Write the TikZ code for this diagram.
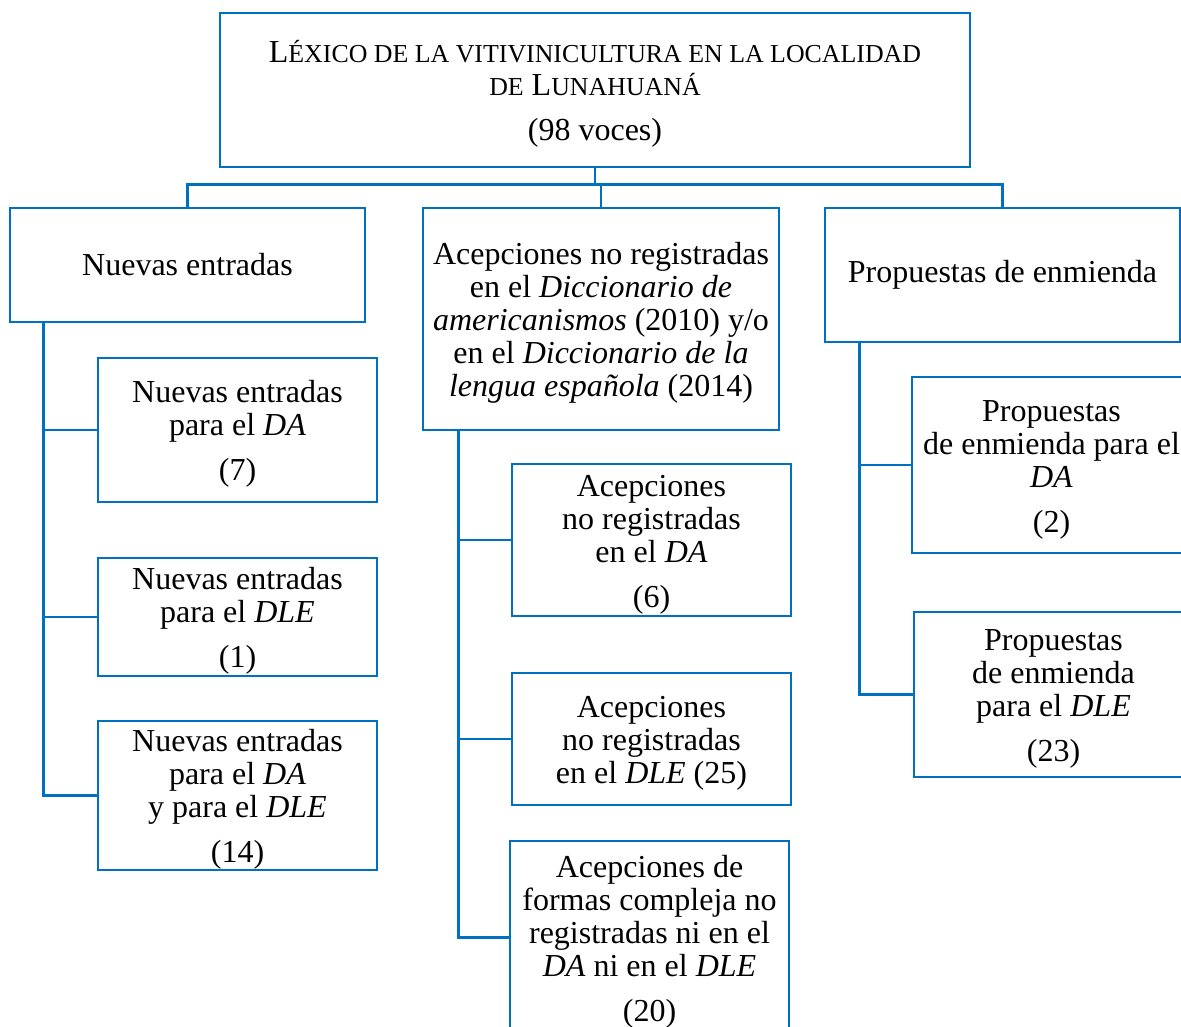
\documentclass[tikz,border=0pt]{standalone}
\usepackage{fontspec}
\setmainfont{Liberation Serif}
\usepackage{xcolor}
\usetikzlibrary{positioning,calc}
\definecolor{lineblue}{HTML}{0070C0}
\newdimen\px \px=0.75pt
\newcommand{\fsc}[1]{{\fontsize{19.4}{24.75}\selectfont #1}}
\newcommand{\tp}{\rule{0pt}{23pt}}
\tikzset{box/.style={draw=lineblue,line width=2.1pt,align=center,inner sep=0pt,
    font=\fontsize{24}{24.75}\selectfont},
  link/.style={draw=lineblue,line width=2.1pt}}

\begin{document}
\begin{tikzpicture}[x=0.75pt,y=-0.75pt]
\useasboundingbox (0,0) rectangle (1181,1027);
\clip (0,0) rectangle (1181,1027);
% top
\node[box,minimum width=750\px,minimum height=154\px] (top) at (595,90)
  {\tp L\fsc{ÉXICO DE LA VITIVINICULTURA EN LA LOCALIDAD}\\ \fsc{DE} L\fsc{UNAHUANÁ}\\[9pt] (98 voces)};
% first level
\node[box,minimum width=355\px,minimum height=114\px] (ne) at (187.5,265) {Nuevas entradas};
\node[box,minimum width=356\px,minimum height=222\px] (ac) at (601,319)
  {\tp Acepciones no registradas\\ en el \textit{Diccionario de}\\ \textit{americanismos} (2010) y/o\\
   en el \textit{Diccionario de la}\\ \textit{lengua española} (2014)};
\node[box,minimum width=355\px,minimum height=134\px] (pe) at (1002.5,275) {Propuestas de enmienda};
% Nuevas entradas
\node[box,minimum width=279\px,minimum height=144\px] (ne1) at (237.5,430)
  {\tp Nuevas entradas\\ para el \textit{DA}\\[9pt] (7)};
\node[box,minimum width=279\px,minimum height=118\px] (ne2) at (237.5,617)
  {\tp Nuevas entradas\\ para el \textit{DLE}\\[9pt] (1)};
\node[box,minimum width=279\px,minimum height=149\px] (ne3) at (237.5,795.5)
  {\tp Nuevas entradas\\ para el \textit{DA}\\ y para el \textit{DLE}\\[9pt] (14)};
% Acepciones
\node[box,minimum width=279\px,minimum height=152\px] (ac1) at (651.5,540)
  {\tp Acepciones\\ no registradas\\ en el \textit{DA}\\[9pt] (6)};
\node[box,minimum width=279\px,minimum height=132\px] (ac2) at (651.5,739)
  {\tp Acepciones\\ no registradas\\ en el \textit{DLE} (25)};
\node[box,minimum width=279\px,minimum height=193\px] (ac3) at (649.5,937.5)
  {\tp Acepciones de\\ formas compleja no\\ registradas ni en el\\ \textit{DA} ni en el \textit{DLE}\\[9pt] (20)};
% Propuestas
\node[box,minimum width=279\px,minimum height=176\px] (pe1) at (1051.5,465)
  {\tp Propuestas\\ de enmienda para el\\ \textit{DA}\\[9pt] (2)};
\node[box,minimum width=279\px,minimum height=165\px] (pe2) at (1053.5,694.5)
  {\tp Propuestas\\ de enmienda\\ para el \textit{DLE}\\[9pt] (23)};
% connectors
\draw[link] (top.south) -- ++(0,16) coordinate (bus);
\draw[link] (ne.north) |- (pe.north |- bus) -- (pe.north);
\draw[link] (ac.north) -- (ac.north |- bus);
\coordinate (tne) at ($(ne.south west)+(35,0)$);
\coordinate (tac) at ($(ac.south west)+(37,0)$);
\coordinate (tpe) at ($(pe.south west)+(36,0)$);
\foreach \c in {ne1,ne2,ne3} \draw[link] (\c.west) -| (tne);
\foreach \c in {ac1,ac2,ac3} \draw[link] (\c.west) -| (tac);
\foreach \c in {pe1,pe2} \draw[link] (\c.west) -| (tpe);
\end{tikzpicture}
\end{document}
